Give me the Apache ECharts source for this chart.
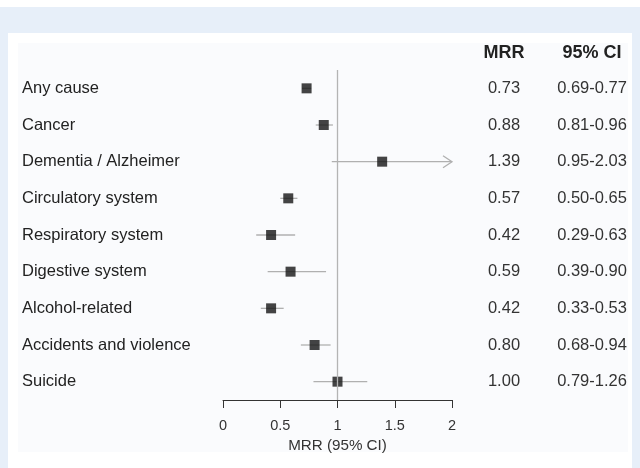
<!DOCTYPE html>
<html>
<head>
<meta charset="utf-8">
<script src="https://cdn.jsdelivr.net/npm/echarts@6/dist/echarts.min.js"></script>
<style>
html, body { margin: 0; padding: 0; background: #e7eff9; }
#chart { width: 640px; height: 468px; }
</style>
</head>
<body>
<div id="chart"></div>
<script>
var causes = ['Any cause', 'Cancer', 'Dementia / Alzheimer', 'Circulatory system', 'Respiratory system',
	'Digestive system', 'Alcohol-related', 'Accidents and violence', 'Suicide'];
var mrr = [0.73, 0.88, 1.39, 0.57, 0.42, 0.59, 0.42, 0.80, 1.00];
var ciLow = [0.69, 0.81, 0.95, 0.50, 0.29, 0.39, 0.33, 0.68, 0.79];
var ciHigh = [0.77, 0.96, 2.03, 0.65, 0.63, 0.90, 0.53, 0.94, 1.26];
var xTicks = [0, 0.5, 1, 1.5, 2];

var X_MAX = 2;
var FONT = '"Liberation Sans", Arial, Helvetica, sans-serif';

var mrrText = mrr.map(function(v) { return v.toFixed(2); });
var ciText = ciLow.map(function(v, i) { return v.toFixed(2) + '-' + ciHigh[i].toFixed(2); });

var ciData = causes.map(function(c, i) { return [ciLow[i], ciHigh[i], i]; });
var pointData = causes.map(function(c, i) { return [mrr[i], i]; });

var chart = echarts.init(document.getElementById('chart'));

var option = {
	backgroundColor: '#e7eff9',
	animation: false,
	textStyle: { fontFamily: FONT },
	graphic: [
		{ type: 'rect', shape: { x: 0, y: 0, width: 640, height: 7 }, style: { fill: '#ffffff' }, z: -10 },
		{ type: 'rect', shape: { x: 8, y: 33, width: 624, height: 435 }, style: { fill: '#ffffff' }, z: -10 },
		{ type: 'rect', shape: { x: 18, y: 43, width: 610, height: 409 }, style: { fill: '#fafbfd' }, z: -9 },
		{ type: 'text', x: 504, y: 53, style: { text: 'MRR', font: 'bold 18px ' + FONT, fill: '#222', align: 'center', verticalAlign: 'middle' } },
		{ type: 'text', x: 592, y: 53, style: { text: '95% CI', font: 'bold 18px ' + FONT, fill: '#222', align: 'center', verticalAlign: 'middle' } }
	],
	grid: { left: 223, right: 188, top: 70, bottom: 68 },
	xAxis: {
		type: 'value',
		min: 0,
		max: X_MAX,
		interval: 0.5,
		splitLine: { show: false },
		axisLine: { show: true, lineStyle: { color: '#333', width: 1 } },
		axisTick: { show: true, length: 8, lineStyle: { color: '#333' } },
		axisLabel: {
			margin: 18, color: '#333', fontSize: 14.5,
			formatter: function(v) { return xTicks.indexOf(v) >= 0 ? String(v) : ''; }
		},
		name: 'MRR (95% CI)',
		nameLocation: 'middle',
		nameGap: 34,
		nameTextStyle: { color: '#333', fontSize: 15.2 }
	},
	yAxis: [
		{
			type: 'category',
			data: causes,
			inverse: true,
			axisLine: { show: false },
			axisTick: { show: false },
			axisLabel: { align: 'left', margin: 201, color: '#222', fontSize: 16.5 }
		},
		{
			type: 'category',
			data: mrrText,
			inverse: true,
			position: 'right',
			axisLine: { show: false },
			axisTick: { show: false },
			axisLabel: { align: 'center', margin: 52, color: '#333', fontSize: 16.5 }
		},
		{
			type: 'category',
			data: ciText,
			inverse: true,
			position: 'right',
			offset: 88,
			axisLine: { show: false },
			axisTick: { show: false },
			axisLabel: { align: 'center', margin: 52, color: '#333', fontSize: 16.5 }
		}
	],
	series: [
		{
			type: 'custom',
			data: ciData,
			z: 2,
			renderItem: function(params, api) {
				var lo = api.value(0), hi = api.value(1), idx = api.value(2);
				var clipped = hi > X_MAX;
				var p1 = api.coord([lo, idx]);
				var p2 = api.coord([Math.min(hi, X_MAX), idx]);
				var style = { stroke: '#b0b0b0', lineWidth: 1.3 };
				var children = [{ type: 'line', shape: { x1: p1[0], y1: p1[1], x2: p2[0], y2: p2[1] }, style: style }];
				if (clipped) {
					children.push({
						type: 'polyline',
						shape: { points: [[p2[0] - 9, p2[1] - 6], [p2[0], p2[1]], [p2[0] - 9, p2[1] + 6]] },
						style: { stroke: '#b0b0b0', lineWidth: 1.3, fill: null }
					});
				}
				return { type: 'group', children: children };
			}
		},
		{
			type: 'scatter',
			data: pointData,
			symbol: 'rect',
			symbolSize: 10,
			z: 3,
			itemStyle: { color: '#151515' },
			markLine: {
				silent: true,
				symbol: ['none', 'none'],
				label: { show: false },
				lineStyle: { color: '#b4b4b4', type: 'solid', width: 1.3 },
				data: [{ xAxis: 1 }]
			}
		}
	]
};

chart.setOption(option);
</script>
</body>
</html>
